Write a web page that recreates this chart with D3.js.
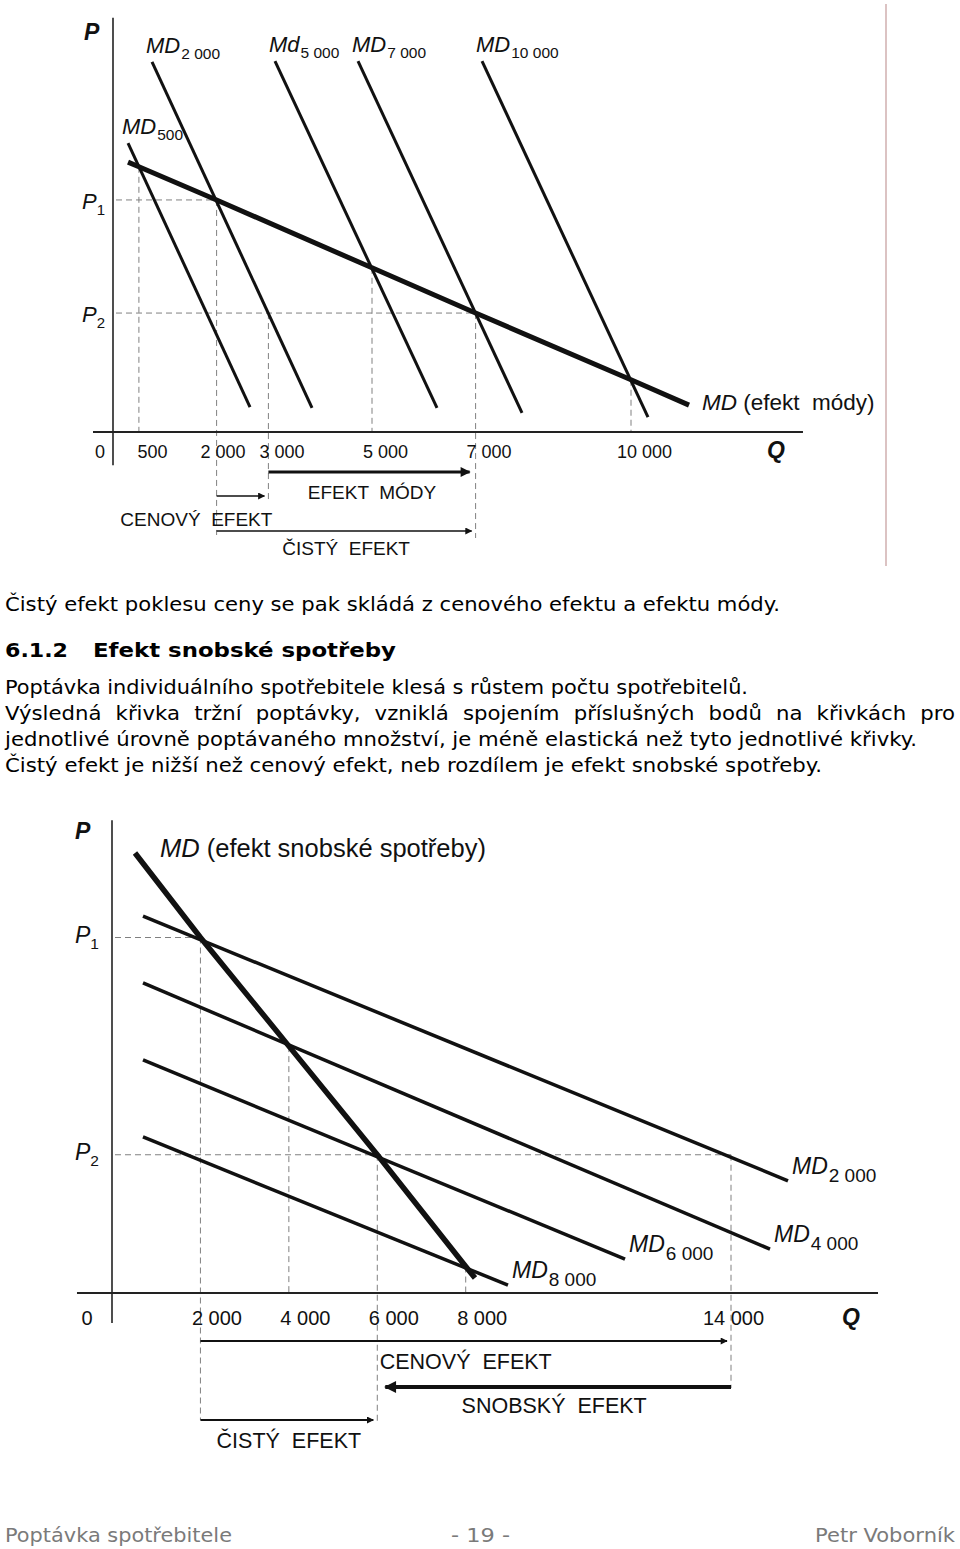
<!DOCTYPE html>
<html>
<head>
<meta charset="utf-8">
<script src="https://cdn.jsdelivr.net/npm/d3@7"></script>
<style>
  html, body { margin: 0; padding: 0; background: #fff; }
  svg { display: block; }
  text { white-space: pre; }
</style>
</head>
<body>
<svg id="page" width="960" height="1549"></svg>
<script>
// ---- chart 1: efekt módy ----
const modaTicks = [500, 2000, 3000, 5000, 7000, 10000];
const modaP1 = 5.95, modaP2 = 3.05;
const modaIndividual = [
  {name: "MD", sub: "500",    from: [290, 7.41],  to: [2645, 0.64]},
  {name: "MD", sub: "2 000",  from: [753, 9.49],  to: [3842, 0.62]},
  {name: "Md", sub: "5 000",  from: [3127, 9.51], to: [6255, 0.62]},
  {name: "MD", sub: "7 000",  from: [4730, 9.51], to: [7896, 0.49]},
  {name: "MD", sub: "10 000", from: [7124, 9.51], to: [10328, 0.38]}
];
const modaMarket = [[290, 6.92], [500, 6.80], [2000, 5.95], [5000, 4.21], [7000, 3.05], [10000, 1.34], [11120, 0.69]];
const modaGuides = [[500, 6.80], [2000, 5.95], [3000, 3.05], [5000, 4.21], [7000, 3.05], [10000, 1.34]];
const modaEffects = [
  {label: "EFEKT  MÓDY",   from: 3000, to: 7000},
  {label: "CENOVÝ  EFEKT", from: 2000, to: 3000},
  {label: "ČISTÝ  EFEKT",  from: 2000, to: 7000}
];

// ---- chart 2: efekt snobské spotřeby ----
const snobTicks = [2000, 4000, 6000, 8000, 14000];
const snobP1 = 9.0, snobP2 = 3.5;
const snobIndividual = [
  {name: "MD", sub: "2 000", from: [701, 9.54], to: [15289, 2.84]},
  {name: "MD", sub: "4 000", from: [701, 7.85], to: [14882, 1.11]},
  {name: "MD", sub: "6 000", from: [701, 5.90], to: [11603, 0.86]},
  {name: "MD", sub: "8 000", from: [701, 3.95], to: [8956, 0.20]}
];
const snobMarket = [[520, 11.14], [2000, 9.0], [4000, 6.25], [6000, 3.5], [8000, 0.67], [8210, 0.38]];
const snobGuides = [[2000, 9.0], [4000, 6.25], [6000, 3.5], [8000, 0.67], [14000, 3.5]];
const snobEffects = [
  {label: "CENOVÝ  EFEKT",  from: 2000,  to: 14000},
  {label: "SNOBSKÝ  EFEKT", from: 14000, to: 6000},
  {label: "ČISTÝ  EFEKT",   from: 2000,  to: 6000}
];

// ---- page text ----
const bodyLines = [
  "Čistý efekt poklesu ceny se pak skládá z cenového efektu a efektu módy.",
  "Poptávka individuálního spotřebitele klesá s růstem počtu spotřebitelů.",
  "Výsledná křivka tržní poptávky, vzniklá spojením příslušných bodů na křivkách pro",
  "jednotlivé úrovně poptávaného množství, je méně elastická než tyto jednotlivé křivky.",
  "Čistý efekt je nižší než cenový efekt, neb rozdílem je efekt snobské spotřeby."
];
const heading = ["6.1.2", "Efekt snobské spotřeby"];
const footer = ["Poptávka spotřebitele", "- 19 -", "Petr Voborník"];

const svg = d3.select("#page");
const chartFont = "'Liberation Sans', Arial, sans-serif";
const bodyFont = "'DejaVu Sans', Verdana, sans-serif";
const ink = "#111";
const fmt = d3.formatLocale({decimal: ",", thousands: " ", grouping: [3], currency: ["", ""]}).format(",d");

const defs = svg.append("defs");
function marker(id, w, h) {
  defs.append("marker").attr("id", id)
    .attr("viewBox", "0 0 10 10").attr("refX", 9).attr("refY", 5)
    .attr("markerWidth", w).attr("markerHeight", h)
    .attr("markerUnits", "userSpaceOnUse").attr("orient", "auto")
    .append("path").attr("d", "M0,0L10,5L0,10z").attr("fill", ink);
}
marker("head-s", 9, 7);
marker("head-m", 13, 10);
marker("head-l", 17, 12);

function drawChart(c) {
  const g = svg.append("g");
  const x = c.x, y = c.y, y0 = y(0);
  const line = d3.line().x(d => x(d[0])).y(d => y(d[1]));

  // dashed guides
  const dash = g.append("g").attr("stroke", "#808080").attr("stroke-width", 1)
    .attr("stroke-dasharray", "6,4").attr("fill", "none");
  c.hGuides.forEach(([p, q]) => dash.append("line")
    .attr("x1", x(0) + 3).attr("x2", x(q)).attr("y1", y(p)).attr("y2", y(p)));
  c.guides.forEach(([q, p]) => dash.append("line")
    .attr("x1", x(q)).attr("x2", x(q)).attr("y1", y(p)).attr("y2", y0 + (c.guideDrop[q] || 0)));

  // axes
  g.append("line").attr("x1", x(c.qExtent[0])).attr("x2", x(c.qExtent[1]))
    .attr("y1", y0).attr("y2", y0).attr("stroke", "#222").attr("stroke-width", 2);
  g.append("line").attr("x1", x(0)).attr("x2", x(0))
    .attr("y1", y(c.pExtent[1])).attr("y2", y(c.pExtent[0])).attr("stroke", "#222").attr("stroke-width", 1.6);

  const ax = g.append("g").attr("transform", "translate(0," + y0 + ")")
    .call(d3.axisBottom(x).tickValues(c.ticks).tickFormat(fmt).tickSize(0).tickPadding(c.tickPad));
  ax.select(".domain").remove();
  ax.selectAll("text").attr("font-family", chartFont).attr("font-size", c.tickSize).attr("fill", ink)
    .attr("dx", d => c.tickDx(d));
  g.append("text").attr("x", x(0) - c.zeroDx).attr("y", y0 + c.tickPad + c.tickSize * 0.71)
    .attr("text-anchor", "middle").attr("font-family", chartFont).attr("font-size", c.tickSize)
    .attr("fill", ink).text("0");

  // axis titles
  const title = (t, px, py) => g.append("text").attr("x", px).attr("y", py)
    .attr("font-family", chartFont).attr("font-size", c.titleSize).attr("font-weight", "bold")
    .attr("font-style", "italic").attr("fill", ink).text(t);
  title("P", c.pTitle[0], c.pTitle[1]);
  title("Q", c.qTitle[0], y0 + c.qTitle[1]);

  [[c.p1, "1"], [c.p2, "2"]].forEach(([p, s]) => {
    const t = g.append("text").attr("x", c.pLabelX).attr("y", y(p) + c.pLabelDy)
      .attr("font-family", chartFont).attr("fill", ink);
    t.append("tspan").attr("font-style", "italic").attr("font-size", c.labelSize).text("P");
    t.append("tspan").attr("font-size", c.pSubSize).attr("dy", 6).text(s);
  });

  // individual demand curves
  g.selectAll("path.ind").data(c.individual).join("path").attr("class", "ind")
    .attr("d", d => line([d.from, d.to]))
    .attr("fill", "none").attr("stroke", ink).attr("stroke-width", c.thin);

  // market demand curve
  g.append("path").datum(c.market).attr("d", line)
    .attr("fill", "none").attr("stroke", ink).attr("stroke-width", c.thick);

  // curve labels
  c.individual.forEach(d => {
    const pt = d[c.labelEnd];
    const t = g.append("text").attr("x", x(pt[0]) + c.labelDx).attr("y", y(pt[1]) + c.labelDy)
      .attr("font-family", chartFont).attr("fill", ink);
    t.append("tspan").attr("font-style", "italic").attr("font-size", c.labelSize).text(d.name);
    t.append("tspan").attr("font-size", c.subSize).attr("dy", c.subDy).attr("dx", 1).text(d.sub);
  });
  const mpt = c.market[c.marketLabel.at];
  const mt = g.append("text").attr("x", x(mpt[0]) + c.marketLabel.dx).attr("y", y(mpt[1]) + c.marketLabel.dy)
    .attr("font-family", chartFont).attr("font-size", c.marketLabel.size).attr("fill", ink);
  mt.append("tspan").attr("font-style", "italic").text("MD");
  mt.append("tspan").text(c.marketLabel.text);

  // effect arrows
  c.effects.forEach((e, i) => {
    const L = c.effectLayout[i];
    const ry = y0 + L.row;
    const dir = Math.sign(e.to - e.from);
    g.append("line").attr("x1", x(e.from)).attr("x2", x(e.to) - dir * L.head / 2)
      .attr("y1", ry).attr("y2", ry).attr("stroke", ink).attr("stroke-width", L.w)
      .attr("marker-end", "url(#" + L.marker + ")");
    const lx = L.anchor === "end" ? x(Math.max(e.from, e.to)) + 4 : (x(e.from) + x(e.to)) / 2;
    g.append("text").attr("x", lx).attr("y", y0 + L.text)
      .attr("text-anchor", L.anchor).attr("font-family", chartFont)
      .attr("font-size", c.effectSize).attr("fill", ink).text(e.label);
  });
}

// chart 1
drawChart({
  x: d3.scaleLinear().domain([0, 10000]).range([113, 631]),
  y: d3.scaleLinear().domain([0, 10]).range([432, 42]),
  qExtent: [-386, 13320], pExtent: [-0.85, 10.62],
  ticks: modaTicks, tickPad: 13, tickSize: 18, zeroDx: 13,
  tickDx: d => d === 2000 ? 6 : 13,
  titleSize: 23, pTitle: [84, 40], qTitle: [767, 26],
  p1: modaP1, p2: modaP2, pLabelX: 82, pLabelDy: 9, pSubSize: 15,
  individual: modaIndividual, market: modaMarket, thin: 3, thick: 5,
  guides: modaGuides, hGuides: [[modaP1, 2000], [modaP2, 7000]],
  guideDrop: {2000: 103, 3000: 68, 7000: 106},
  labelEnd: "from", labelDx: -6, labelDy: -9, labelSize: 22, subSize: 15.5, subDy: 6,
  marketLabel: {at: modaMarket.length - 1, dx: 13, dy: 5, size: 22.5, text: " (efekt  módy)"},
  effects: modaEffects, effectSize: 19,
  effectLayout: [
    {row: 40, text: 67, w: 3, marker: "head-m", head: 12, anchor: "middle"},
    {row: 64, text: 94, w: 1.6, marker: "head-s", head: 8, anchor: "end"},
    {row: 99, text: 123, w: 1.6, marker: "head-s", head: 8, anchor: "middle"}
  ]
});

// chart 2
drawChart({
  x: d3.scaleLinear().domain([0, 14000]).range([112, 731]),
  y: d3.scaleLinear().domain([0, 12]).range([1293, 819]),
  qExtent: [-792, 17325], pExtent: [-0.76, 11.97],
  ticks: snobTicks, tickPad: 18, tickSize: 20, zeroDx: 25,
  tickDx: d => d === 14000 ? 2 : 16,
  titleSize: 23, pTitle: [75, 839], qTitle: [842, 32],
  p1: snobP1, p2: snobP2, pLabelX: 75, pLabelDy: 5, pSubSize: 15.5,
  individual: snobIndividual, market: snobMarket, thin: 3.5, thick: 5.5,
  guides: snobGuides, hGuides: [[snobP1, 2000], [snobP2, 14000]],
  guideDrop: {2000: 127, 6000: 130, 14000: 95},
  labelEnd: "to", labelDx: 4, labelDy: -7, labelSize: 23, subSize: 19, subDy: 8,
  marketLabel: {at: 0, dx: 25, dy: 4, size: 25.5, text: " (efekt snobské spotřeby)"},
  effects: snobEffects, effectSize: 21.5,
  effectLayout: [
    {row: 48, text: 76, w: 1.8, marker: "head-s", head: 8, anchor: "middle"},
    {row: 94, text: 120, w: 4, marker: "head-l", head: 16, anchor: "middle"},
    {row: 127, text: 155, w: 1.8, marker: "head-s", head: 8, anchor: "middle"}
  ]
});

// frame edge of the scanned picture
svg.append("line").attr("x1", 886).attr("x2", 886).attr("y1", 4).attr("y2", 566)
  .attr("stroke", "#c49b9b").attr("stroke-width", 1.2);

// body text
const body = svg.append("g").attr("font-family", bodyFont).attr("font-size", 19).attr("fill", "#000");
const bodyLayout = [
  {y: 611, w: 775}, {y: 694, w: 743}, {y: 720, w: 950, justify: true}, {y: 746, w: 912}, {y: 772, w: 817}
];
let ratio = 1;
bodyLines.forEach((s, i) => {
  const L = bodyLayout[i];
  if (L.justify) return;
  const t = body.append("text").attr("x", 5).attr("y", L.y).text(s);
  ratio = L.w / t.node().getComputedTextLength();
  t.attr("textLength", L.w).attr("lengthAdjust", "spacingAndGlyphs");
});
bodyLines.forEach((s, i) => {
  const L = bodyLayout[i];
  if (!L.justify) return;
  const words = s.split(" ");
  const nodes = words.map(w => body.append("text").attr("y", L.y).text(w));
  const widths = nodes.map(n => n.node().getComputedTextLength() * ratio);
  const gap = (L.w - d3.sum(widths)) / (words.length - 1);
  let cx = 5;
  nodes.forEach((n, k) => {
    n.attr("x", cx).attr("textLength", widths[k]).attr("lengthAdjust", "spacingAndGlyphs");
    cx += widths[k] + gap;
  });
});

const head = svg.append("g").attr("font-family", bodyFont).attr("font-size", 20)
  .attr("font-weight", "bold").attr("fill", "#000");
head.append("text").attr("x", 5).attr("y", 657).attr("textLength", 63)
  .attr("lengthAdjust", "spacingAndGlyphs").text(heading[0]);
head.append("text").attr("x", 93).attr("y", 657).attr("textLength", 303)
  .attr("lengthAdjust", "spacingAndGlyphs").text(heading[1]);

// footer
const foot = svg.append("g").attr("font-family", bodyFont).attr("font-size", 19).attr("fill", "#7a7a7a");
[{x: 5, w: 227}, {x: 451, w: 59}, {x: 815, w: 140}].forEach((L, i) => {
  foot.append("text").attr("x", L.x).attr("y", 1542).attr("textLength", L.w)
    .attr("lengthAdjust", "spacingAndGlyphs").text(footer[i]);
});
</script>
</body>
</html>
